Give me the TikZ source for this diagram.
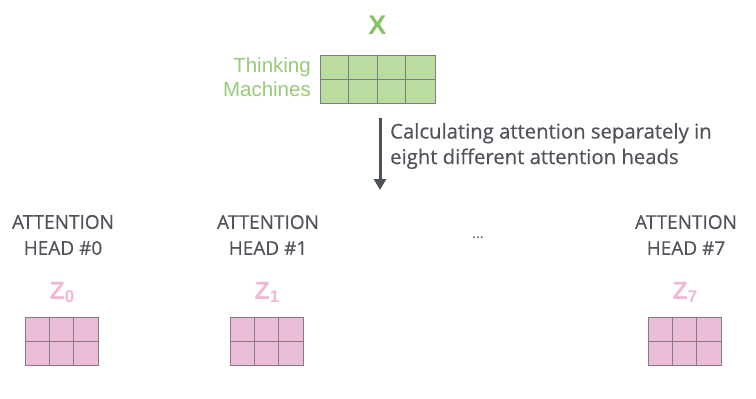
\documentclass[tikz,border=0pt]{standalone}
\usepackage{fontspec}
\setmainfont{Open Sans}
\newfontfamily\semi{Open Sans}[FakeBold=0.5, BoldFont={Open Sans}]
\newfontfamily\helv{Liberation Sans}
\usetikzlibrary{arrows.meta, positioning}
\usepackage{xcolor}
\definecolor{txtgray}{HTML}{50545A}
\definecolor{arrowgray}{HTML}{4C5057}
\definecolor{xgreen}{HTML}{86C462}
\definecolor{lightgreen}{HTML}{96CC76}
\definecolor{cellgreen}{HTML}{BADCA0}
\definecolor{zpink}{HTML}{EFB8D6}
\definecolor{cellpink}{HTML}{EBBDD9}
\definecolor{gridgray}{HTML}{7C7C7C}
\definecolor{gridpink}{HTML}{877A83}

\begin{document}
\begin{tikzpicture}[
    x=1pt, y=-1pt,
    head/.style={align=center, text=txtgray, font=\semi\bfseries\fontsize{19}{26}\selectfont},
    xmat/.style={rectangle, draw=gridgray, line width=1pt, fill=cellgreen, minimum width=115pt, minimum height=48pt, inner sep=0pt},
    zmat/.style={rectangle, draw=gridpink, line width=1pt, fill=cellpink, minimum width=73pt, minimum height=48pt, inner sep=0pt},
    zlabel/.style={text=zpink, font=\helv\bfseries\fontsize{25}{25}\selectfont, inner sep=0pt},
    arrow/.style={-{Triangle[width=12pt,length=11pt]}, line width=3pt, draw=arrowgray}
]
\useasboundingbox (0,0) rectangle (756,399);

% input
\node (xm) [xmat] at (377.5,79) {};
\foreach \i in {1,2,3}
  \draw [gridgray, line width=1pt] ([xshift=\i*28.75pt]xm.north west) -- ([xshift=\i*28.75pt]xm.south west);
\draw [gridgray, line width=1pt] (xm.west) -- (xm.east);
\node (X) [text=xgreen, font=\helv\bfseries\fontsize{27}{27}\selectfont, inner sep=0pt, above=20pt of xm] {X};
\node (words) [text=lightgreen, font=\helv\fontsize{20.5}{24}\selectfont, align=right, anchor=east, inner sep=0pt] at (311,77) {Thinking\\Machines};

% arrow
\coordinate (top) at (380,118);
\coordinate (bottom) at (380,190);
\draw [arrow] (top) -- (bottom);
\node (note) [text=txtgray, font=\semi\bfseries\fontsize{20.3}{25.5}\selectfont, align=left, anchor=west, inner sep=0pt] at (390,146) {Calculating attention separately in\\eight different attention heads};

% heads
\foreach \n/\x/\k in {h0/63/0, h1/268/1, h7/686/7} {
  \node (\n) [head] at (\x,235) {ATTENTION\\HEAD \#\k};
  \node (\n m) [zmat] at (\x-1,341) {};
  \foreach \i in {1,2}
    \draw [gridpink, line width=1pt] ([xshift=\i*24.33pt]\n m.north west) -- ([xshift=\i*24.33pt]\n m.south west);
  \draw [gridpink, line width=1pt] (\n m.west) -- (\n m.east);
  \node (\n z) [zlabel, above=14pt of \n m] {Z{\fontsize{17}{17}\selectfont\raisebox{-3pt}{\k}}};
}
\node (dots) [text=txtgray, font=\fontsize{15}{15}\selectfont] at (478,238) {...};

\end{tikzpicture}
\end{document}
